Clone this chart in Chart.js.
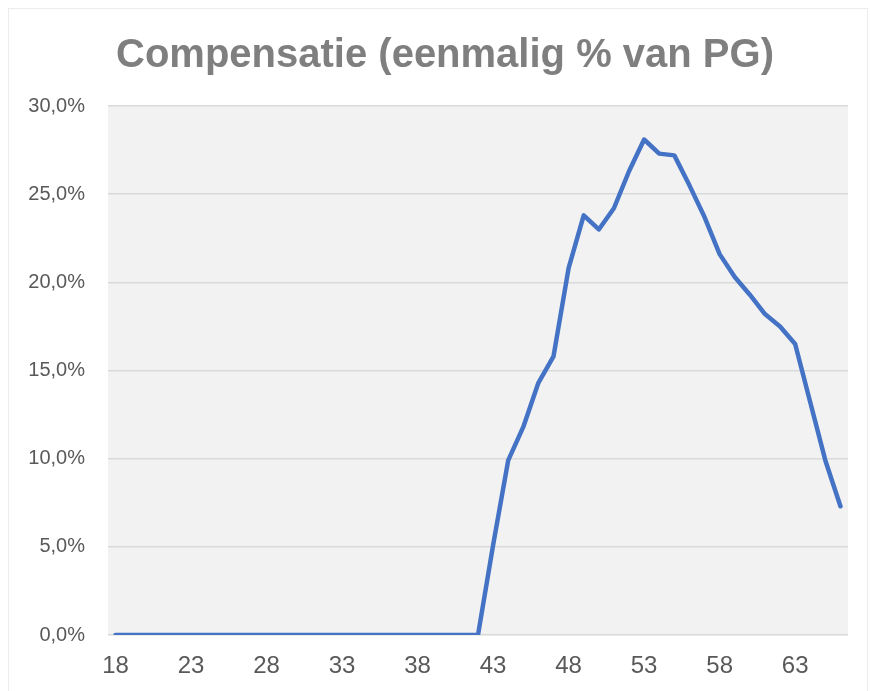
<!DOCTYPE html>
<html>
<head>
<meta charset="utf-8">
<script src="https://cdn.jsdelivr.net/npm/chart.js@4.4.1/dist/chart.umd.min.js"></script>
<style>
    html, body { margin: 0; padding: 0; background: #ffffff; }
    #wrap { width: 871px; height: 691px; }
</style>
</head>
<body>
<div id="wrap"><canvas id="compChart" width="871" height="691"></canvas></div>
<script>
// Age categories (x axis)
const ages = [18, 19, 20, 21, 22, 23, 24, 25, 26, 27,
              28, 29, 30, 31, 32, 33, 34, 35, 36, 37,
              38, 39, 40, 41, 42, 43, 44, 45, 46, 47,
              48, 49, 50, 51, 52, 53, 54, 55, 56, 57,
              58, 59, 60, 61, 62, 63, 64, 65, 66];

// Compensation, one-off, in % of PG
const compensatie = [0, 0, 0, 0, 0, 0, 0, 0, 0, 0,
                     0, 0, 0, 0, 0, 0, 0, 0, 0, 0,
                     0, 0, 0, 0, 0, 5.1, 9.9, 11.8, 14.3, 15.8,
                     20.8, 23.8, 23.0, 24.2, 26.3, 28.1, 27.3, 27.2, 25.5, 23.7,
                     21.6, 20.3, 19.3, 18.2, 17.5, 16.5, 13.2, 9.9, 7.3];

// Labels shown under the x axis
const xTickLabels = [18, 23, 28, 33, 38, 43, 48, 53, 58, 63];

const yMin = 0;
const yMax = 30;
const yStep = 5;

// Fill the plot area grey and draw the faint outer frame
const plotBackground = {
    id: 'plotBackground',
    afterLayout: function(chart) {
        // nudge the title centre to the right, like the original
        if (chart.titleBlock) {
            chart.titleBlock.left = 42;
        }
    },
    beforeDraw: function(chart) {
        const ctx = chart.ctx;
        const area = chart.chartArea;
        ctx.save();
        ctx.strokeStyle = '#ececec';
        ctx.lineWidth = 1;
        ctx.strokeRect(8.5, 8.5, chart.width - 12, chart.height + 10);
        ctx.fillStyle = '#f2f2f2';
        ctx.fillRect(area.left, area.top, area.right - area.left, area.bottom - area.top);
        ctx.restore();
    }
};

const ctx = document.getElementById('compChart').getContext('2d');
const chart = new Chart(ctx, {
    type: 'line',
    data: {
        labels: ages,
        datasets: [{
            label: 'Compensatie',
            data: compensatie,
            borderColor: '#4472c4',
            borderWidth: 4.5,
            borderCapStyle: 'round',
            borderJoinStyle: 'round',
            pointRadius: 0,
            tension: 0,
            fill: false
        }]
    },
    options: {
        responsive: false,
        animation: false,
        layout: {
            padding: { left: 0, right: 23, top: 0, bottom: 0 }
        },
        scales: {
            x: {
                type: 'category',
                offset: true,
                grid: { display: false, drawTicks: false },
                border: { display: false },
                ticks: {
                    autoSkip: false,
                    maxRotation: 0,
                    padding: 17,
                    color: '#595959',
                    font: { family: '"Liberation Sans", Arial, sans-serif', size: 24 },
                    callback: function(value, index) {
                        const age = ages[index];
                        return xTickLabels.includes(age) ? String(age) : '';
                    }
                },
                afterFit: function(scale) {
                    scale.height = 56;
                }
            },
            y: {
                min: yMin,
                max: yMax,
                grid: {
                    color: '#d9d9d9',
                    lineWidth: 1.5,
                    drawTicks: false
                },
                border: { display: false },
                ticks: {
                    stepSize: yStep,
                    padding: 23,
                    color: '#595959',
                    font: { family: '"Liberation Sans", Arial, sans-serif', size: 20 },
                    callback: function(value) {
                        return value.toFixed(1).replace('.', ',') + '%';
                    }
                },
                afterFit: function(scale) {
                    scale.width = 108;
                }
            }
        },
        plugins: {
            legend: { display: false },
            tooltip: { enabled: false },
            title: {
                display: true,
                text: 'Compensatie (eenmalig % van PG)',
                color: '#7f7f7f',
                font: { family: '"Liberation Sans", Arial, sans-serif', size: 40, weight: 'bold' },
                padding: { top: 32, bottom: 26 }
            }
        }
    },
    plugins: [plotBackground]
});
</script>
</body>
</html>
